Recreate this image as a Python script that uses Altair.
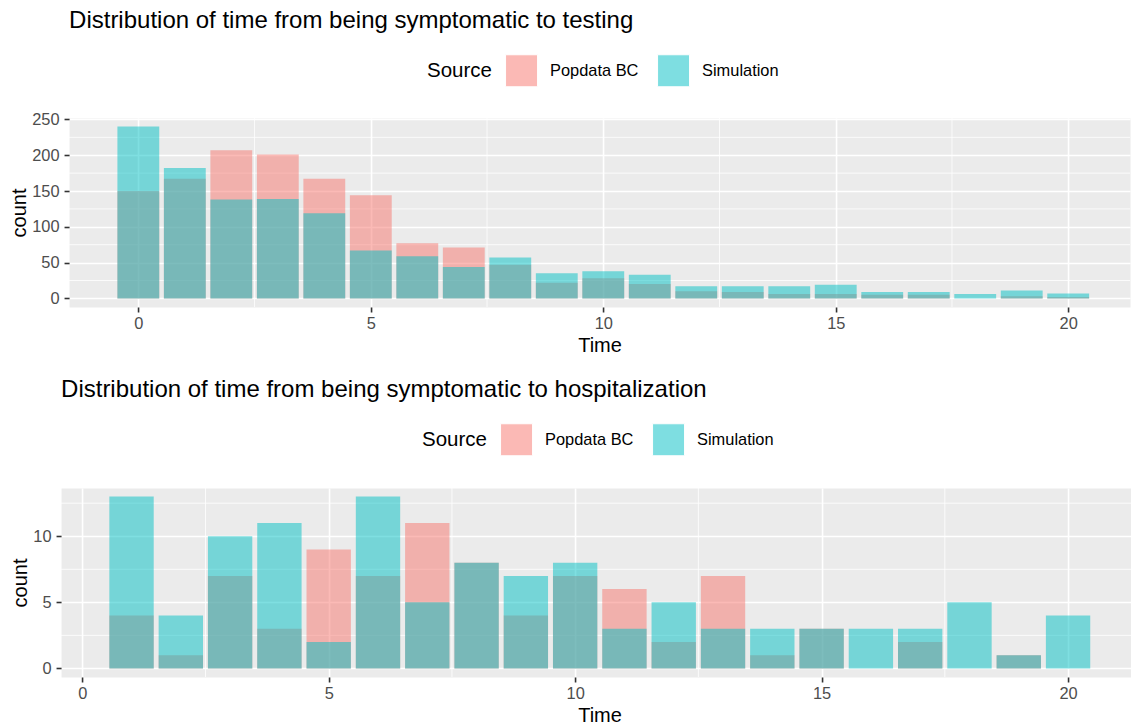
import altair as alt
import pandas as pd

# ---- data ----
time_top = list(range(0, 21))
popdata_top = [150, 167, 207, 201, 167, 144, 77, 71, 47, 22, 28, 20, 10, 9, 6, 6, 5, 5, 0, 3, 2]
simulation_top = [240, 182, 138, 139, 119, 67, 59, 44, 57, 35, 38, 33, 17, 17, 17, 19, 9, 9, 6, 11, 7]

time_bottom = list(range(1, 21))
popdata_bottom = [4, 1, 7, 3, 9, 7, 11, 8, 4, 7, 6, 2, 7, 1, 3, 0, 2, 0, 1, 0]
simulation_bottom = [13, 4, 10, 11, 2, 13, 5, 8, 7, 8, 3, 5, 3, 3, 3, 3, 3, 5, 1, 4]

sources = ["Popdata BC", "Simulation"]
colors = ["#F8766D", "#00BFC4"]

x_ticks = [0, 5, 10, 15, 20]
x_minor = [2.5, 7.5, 12.5, 17.5]
y_ticks_top = [0, 50, 100, 150, 200, 250]
y_minor_top = [25, 75, 125, 175, 225]
y_ticks_bottom = [0, 5, 10]
y_minor_bottom = [2.5, 7.5, 12.5]

FONT = "Liberation Sans"


def panel(title, times, pop, sim, xdom, ydom, yticks, yminor, width, height, lx, ly):
    df = pd.DataFrame({
        "Time": times + times,
        "count": pop + sim,
        "Source": [sources[0]] * len(times) + [sources[1]] * len(times),
    })
    df = df[df["count"] > 0]

    xs = alt.Scale(domain=xdom, nice=False, zero=False)
    ys = alt.Scale(domain=ydom, nice=False, zero=False)

    xaxis = alt.Axis(values=x_ticks, format="d", grid=True, gridColor="white",
                     gridWidth=1.6, domain=False, tickSize=5, tickWidth=1.6,
                     tickColor="#333333", labelFont=FONT, labelFontSize=16.4,
                     labelColor="#4D4D4D", labelPadding=3, titleFont=FONT,
                     titleFontSize=20, titleFontWeight="normal", titleColor="black",
                     titlePadding=4, title="Time")
    yaxis = alt.Axis(values=yticks, format="d", grid=True, gridColor="white",
                     gridWidth=1.6, domain=False, tickSize=5, tickWidth=1.6,
                     tickColor="#333333", labelFont=FONT, labelFontSize=16.4,
                     labelColor="#4D4D4D", labelPadding=5, titleFont=FONT,
                     titleFontSize=20, titleFontWeight="normal", titleColor="black",
                     titlePadding=2, title="count")

    minor_x = alt.Chart(pd.DataFrame({"Time": x_minor})).mark_rule(
        color="white", strokeWidth=0.8).encode(
        x=alt.X("Time:Q", scale=xs, axis=xaxis))
    minor_y = alt.Chart(pd.DataFrame({"count": yminor})).mark_rule(
        color="white", strokeWidth=0.8).encode(
        y=alt.Y("count:Q", scale=ys, axis=yaxis))

    bars = alt.Chart(df).transform_calculate(
        x1="datum.Time - 0.45", x2="datum.Time + 0.45"
    ).mark_bar(opacity=0.5).encode(
        x=alt.X("x1:Q", scale=xs, axis=xaxis),
        x2="x2:Q",
        y=alt.Y("count:Q", scale=ys, axis=yaxis, stack=None),
        y2=alt.datum(0),
        color=alt.Color("Source:N", scale=alt.Scale(domain=sources, range=colors),
                        legend=alt.Legend(
                            orient="none", legendX=lx, legendY=ly,
                            direction="horizontal", title="Source",
                            titleOrient="left", titleAnchor="middle",
                            titleBaseline="middle", titleFont=FONT,
                            titleFontSize=20.5, titleFontWeight="normal",
                            titleColor="black", titlePadding=13,
                            symbolType="square", symbolSize=1024,
                            symbolOpacity=0.5, symbolStrokeWidth=1,
                            symbolStrokeColor="white",
                            labelFont=FONT, labelFontSize=16.4,
                            labelColor="black", labelOffset=12,
                            columnPadding=16, padding=0)),
    )

    return alt.layer(minor_x, minor_y, bars).properties(
        width=width, height=height,
        title=alt.TitleParams(title, anchor="start", frame="group", font=FONT,
                              fontSize=24, fontWeight="normal", color="black",
                              offset=21),
    )


top = panel("Distribution of time from being symptomatic to testing",
            time_top, popdata_top, simulation_top,
            [-1.49, 21.33], [-12, 252], y_ticks_top, y_minor_top,
            1061, 189, 358, -64)
bottom = panel("Distribution of time from being symptomatic to hospitalization",
               time_bottom, popdata_bottom, simulation_bottom,
               [-0.43, 21.42], [-0.65, 13.65], y_ticks_bottom, y_minor_bottom,
               1077, 189, 361, -65)

chart = alt.vconcat(top, bottom, spacing=21, center=True).properties(
    padding={"left": 1, "top": 0, "right": -8, "bottom": 0}
).resolve_scale(color="independent").resolve_legend(color="independent").configure_view(
    fill="#EBEBEB", stroke="transparent")

chart.save("out.html", embed_options={"renderer": "svg", "actions": False})
